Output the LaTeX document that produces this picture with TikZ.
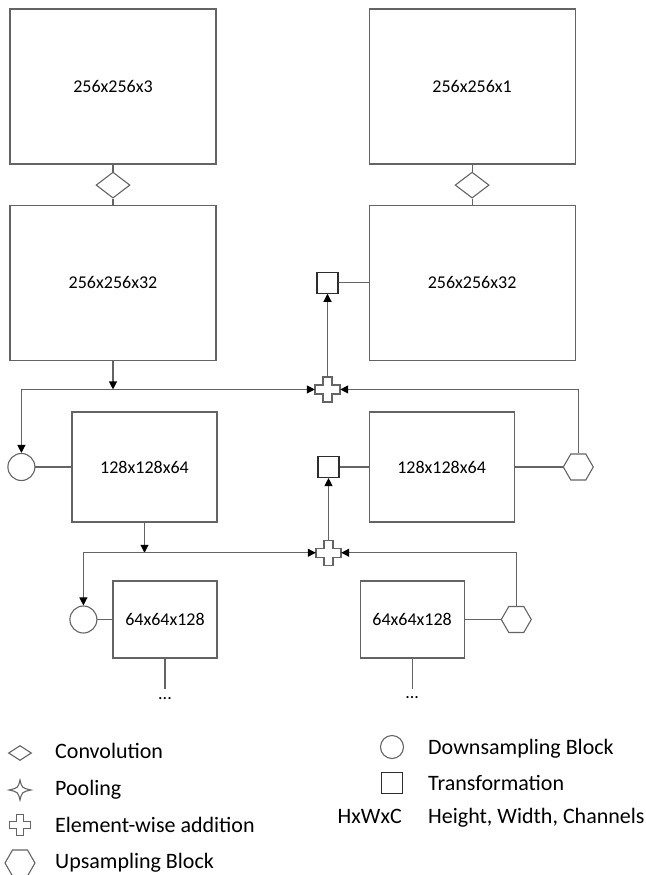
\documentclass[tikz,border=0pt]{standalone}
\usepackage{fontspec}
\setmainfont{Carlito}
\usetikzlibrary{shapes.geometric, arrows.meta, positioning}
\definecolor{lineGray}{RGB}{100, 100, 100}
\definecolor{edgeDark}{RGB}{45, 45, 45}

\tikzset{
    % plus outline used for element-wise addition
    pics/addsign/.style={code={
        \draw[lineGray, line width=1.1pt] (-4.5,-12.5) -- ++(9,0) -- ++(0,8) -- ++(8,0) -- ++(0,9)
            -- ++(-8,0) -- ++(0,8) -- ++(-9,0) -- ++(0,-8) -- ++(-8,0) -- ++(0,-9) -- ++(8,0) -- cycle;
    }},
    % four-pointed star used for pooling
    pics/poolsign/.style={code={
        \draw[lineGray, line width=1.1pt] (0,-10) .. controls (2,-2) .. (11,0) .. controls (2,2) .. (0,10)
            .. controls (-2,2) .. (-11,0) .. controls (-2,-2) .. cycle;
    }}
}

\begin{document}
\begin{tikzpicture}[
    x=1pt, y=-1pt,
    font=\fontsize{18}{22}\selectfont,
    % --- Block Styles ---
    block/.style={rectangle, draw=lineGray, line width=1.1pt, inner sep=0pt},
    bigBlock/.style={block, minimum width=206pt, minimum height=155pt},
    midBlock/.style={block, minimum width=145pt, minimum height=110pt},
    smallBlock/.style={block, minimum width=104pt, minimum height=77pt},
    % --- Operation Symbols ---
    convOp/.style={diamond, draw=lineGray, line width=1.1pt, minimum width=34pt, minimum height=26pt, inner sep=0pt},
    downOp/.style={circle, draw=lineGray, line width=1.1pt, minimum size=27pt, inner sep=0pt},
    upOp/.style={regular polygon, regular polygon sides=6, draw=lineGray, line width=1.1pt, minimum size=30pt, inner sep=0pt},
    transOp/.style={rectangle, draw=edgeDark, line width=1.1pt, minimum size=21pt, inner sep=0pt},
    addOp/.style={rectangle, minimum size=25pt, inner sep=0pt},
    % --- Connectors ---
    link/.style={draw=lineGray, line width=1.1pt},
    arrow/.style={link, -{Triangle[length=8pt, width=8pt, color=black]}},
    legendText/.style={font=\fontsize{22}{26}\selectfont, anchor=base west, inner sep=0pt}
]
    \useasboundingbox (0,0) rectangle (645,875);

    % --- TOP ROW (inputs) ---
    \node[bigBlock] (inRGB) at (113,86.5) {256x256x3};
    \node[bigBlock, right=152pt of inRGB] (inGray) {256x256x1};

    % convolutions
    \node[convOp, below=7pt of inRGB] (convL) {};
    \node[convOp, below=7pt of inGray] (convR) {};

    % --- SECOND ROW (256x256x32) ---
    \node[bigBlock, below=6pt of convL] (featL) {256x256x32};
    \node[bigBlock, below=6pt of convR] (featR) {256x256x32};
    \node[transOp, left=30pt of featR] (transA) {};
    \node[addOp, below=83pt of transA] (addA) {};

    % --- THIRD ROW (128x128x64) ---
    \node[midBlock] (midL) at (144.5,467) {128x128x64};
    \node[downOp, left=36pt of midL] (downA) {};
    \node[midBlock, right=151pt of midL] (midR) {128x128x64};
    \node[transOp, left=29pt of midR] (transB) {};
    \node[upOp, right=48pt of midR] (upA) {};
    \node[addOp, below=62pt of transB] (addB) {};

    % --- FOURTH ROW (64x64x128) ---
    \node[smallBlock] (lowL) at (165,619.5) {64x64x128};
    \node[downOp, left=15pt of lowL] (downB) {};
    \node[smallBlock, right=142pt of lowL] (lowR) {64x64x128};
    \node[upOp, right=36pt of lowR] (upB) {};
    \coordinate[below=30pt of lowL] (tailL);
    \coordinate[below=30pt of lowR] (tailR);
    \node[below=9pt of tailL, inner sep=0pt] (dotsL) {...};
    \node[below=8pt of tailR, inner sep=0pt] (dotsR) {...};

    % plus outlines
    \pic at (addA) {addsign};
    \pic at (addB) {addsign};

    % --- Plain links ---
    \draw[link] (inRGB) -- (convL);
    \draw[link] (convL) -- (featL);
    \draw[link] (inGray) -- (convR);
    \draw[link] (convR) -- (featR);
    \draw[link] (transA) -- (featR.west |- transA);
    \draw[link] (downA) -- (midL);
    \draw[link] (transB) -- (midR);
    \draw[link] (midR) -- (upA);
    \draw[link] (downB) -- (lowL);
    \draw[link] (lowR) -- (upB);
    \draw[link] (lowL) -- (tailL);
    \draw[link] (lowR) -- (tailR);

    % --- Arrows (first merge) ---
    \coordinate (jA) at (featL.south |- addA);
    \coordinate (kA) at (downA |- addA);
    \draw[arrow] (featL.south) -- (jA);
    \draw[arrow] (kA) -- (addA.west);
    \draw[arrow] (kA) -- (downA.north);
    \draw[arrow] (upA.north) |- (addA.east);
    \draw[arrow] (addA) -- (transA);

    % --- Arrows (second merge) ---
    \coordinate (jB) at (midL.south |- addB);
    \coordinate (kB) at (downB |- addB);
    \draw[arrow] (midL.south) -- (jB);
    \draw[arrow] (kB) -- (addB.west);
    \draw[arrow] (kB) -- (downB.north);
    \draw[arrow] (upB.north) |- (addB.east);
    \draw[arrow] (addB) -- (transB);

    % --- Legend ---
    \node[convOp, minimum width=23pt, minimum height=15pt] (keyConv) at (20,753) {};
    \node[legendText] (txtConv) at (55,758) {Convolution};
    \pic at (20,790) {poolsign};
    \node[legendText] (txtPool) at (55,795) {Pooling};
    \pic[scale=0.85] at (20,825) {addsign};
    \node[legendText] (txtAdd) at (55,832) {Element-wise addition};
    \node[upOp] (keyUp) at (20,863) {};
    \node[legendText] (txtUp) at (55,868) {Upsampling Block};

    \node[downOp, minimum size=23pt] (keyDown) at (392,747) {};
    \node[legendText] (txtDown) at (428,754) {Downsampling Block};
    \node[transOp] (keyTrans) at (392,783) {};
    \node[legendText] (txtTrans) at (428,790) {Transformation};
    \node[legendText, anchor=base east] (keyShape) at (402,823) {HxWxC};
    \node[legendText] (txtShape) at (428,823) {Height, Width, Channels};

\end{tikzpicture}
\end{document}
